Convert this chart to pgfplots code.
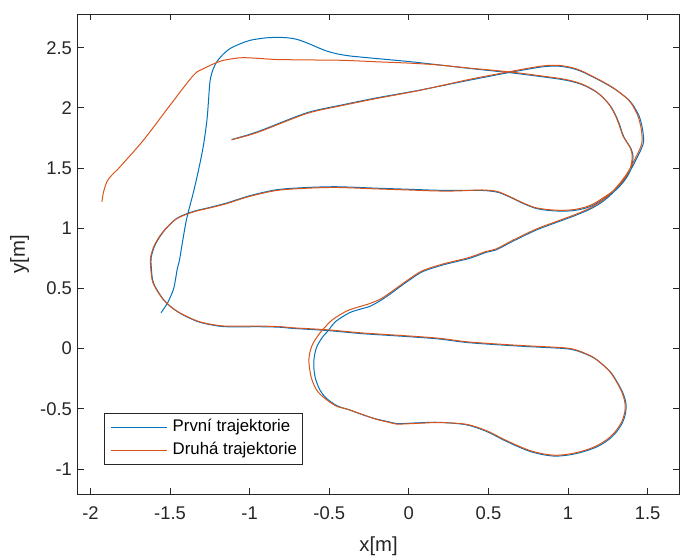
\documentclass[border=0pt]{standalone}
\usepackage{fontspec}
\setmainfont{Liberation Sans}
\usepackage{pgfplots}
\pgfplotsset{compat=1.18}
\definecolor{mblue}{rgb}{0,0.447,0.741}
\definecolor{morange}{rgb}{0.85,0.325,0.098}
\definecolor{axgray}{rgb}{0.15,0.15,0.15}

\begin{document}
\begin{tikzpicture}
\begin{axis}[
  scale only axis, width=601.8pt, height=480.3pt,
  xmin=-2.08, xmax=1.70, ymin=-1.21, ymax=2.78,
  xtick={-2,-1.5,...,1.5}, ytick={-1,-0.5,...,2.5},
  tick align=inside, major tick length=6.5pt,
  axis line style={axgray, line width=0.8pt},
  every tick/.style={axgray, line width=0.8pt},
  /pgf/number format/assume math mode=true,
  ticklabel style={font=\fontsize{18.4}{22}\selectfont, text=axgray},
  xticklabel style={yshift=-9pt},
  yticklabel style={xshift=-2.3pt},
  xlabel={x[m]}, ylabel={y[m]},
  label style={font=\fontsize{20.3}{24}\selectfont, text=axgray},
  xlabel style={at={(axis description cs:0.5,-0.1201)}, anchor=base},
  ylabel style={at={(axis description cs:-0.0965,0.5)}, anchor=center},
  legend style={at={(0.0442,0.0610)}, anchor=south west, draw=axgray,
    line width=0.8pt, fill=white, font=\fontsize{16.8}{20}\selectfont,
    inner xsep=6pt, inner ysep=6.3pt, row sep=6.7pt,
    nodes={inner sep=0pt, text height=12pt, text depth=4pt, text=black}},
  legend cell align=left,
  legend image code/.code={\draw[#1] (0pt,0pt) -- (56pt,0pt); \path (61pt,0pt);},
]
% first run
\addplot[mblue, line width=1.0pt, smooth, tension=0.5] coordinates {
(-1.556,0.298) (-1.530,0.350) (-1.510,0.394) (-1.479,0.491) (-1.465,0.580)
(-1.455,0.660) (-1.440,0.740) (-1.420,0.900) (-1.395,1.082) (-1.353,1.300)
(-1.320,1.490) (-1.290,1.690) (-1.268,1.900) (-1.259,2.050) (-1.252,2.180)
(-1.246,2.245) (-1.230,2.320) (-1.207,2.381) (-1.170,2.440) (-1.124,2.492)
(-1.060,2.532) (-0.998,2.561) (-0.910,2.580) (-0.831,2.586) (-0.760,2.582)
(-0.705,2.570) (-0.640,2.540) (-0.580,2.506) (-0.520,2.474) (-0.454,2.450)
(-0.380,2.433) (-0.308,2.423) (-0.203,2.410) (0.000,2.385) (0.171,2.360)
(0.400,2.325) (0.631,2.293) (0.800,2.265) (0.965,2.235) (1.050,2.210)
(1.112,2.180) (1.190,2.120) (1.258,2.030) (1.295,1.950) (1.321,1.870)
(1.350,1.760) (1.395,1.663) (1.408,1.600) (1.405,1.545) (1.395,1.490)
(1.372,1.430) (1.335,1.365) (1.285,1.300) (1.230,1.250) (1.170,1.200)
(1.112,1.168) (1.040,1.148) (0.965,1.142) (0.880,1.148) (0.798,1.165)
(0.720,1.205) (0.652,1.248) (0.590,1.285) (0.548,1.302) (0.464,1.314)
(0.300,1.315) (0.171,1.316) (0.000,1.324) (-0.203,1.333) (-0.454,1.345)
(-0.650,1.338) (-0.831,1.320) (-1.000,1.270) (-1.144,1.210) (-1.260,1.170)
(-1.353,1.140) (-1.458,1.082) (-1.541,0.972) (-1.594,0.861) (-1.618,0.760)
(-1.618,0.680) (-1.604,0.546) (-1.541,0.408) (-1.458,0.311) (-1.333,0.228)
(-1.230,0.195) (-1.144,0.182) (-0.935,0.182) (-0.812,0.178) (-0.726,0.168)
(-0.517,0.151) (-0.308,0.126) (-0.184,0.115) (0.004,0.099) (0.192,0.080)
(0.380,0.049) (0.694,0.021) (0.965,0.002) (1.040,-0.012) (1.091,-0.034)
(1.160,-0.075) (1.216,-0.131) (1.270,-0.200) (1.311,-0.283) (1.345,-0.370)
(1.363,-0.449) (1.362,-0.530) (1.342,-0.614) (1.305,-0.690) (1.258,-0.753)
(1.190,-0.810) (1.112,-0.850) (1.020,-0.880) (0.924,-0.893) (0.840,-0.880)
(0.757,-0.852) (0.670,-0.805) (0.589,-0.755) (0.485,-0.686) (0.359,-0.632)
(0.192,-0.612) (0.080,-0.615) (-0.038,-0.622) (-0.080,-0.622) (-0.142,-0.603)
(-0.203,-0.585) (-0.289,-0.550) (-0.371,-0.510) (-0.450,-0.475) (-0.520,-0.410)
(-0.560,-0.340) (-0.590,-0.230) (-0.597,-0.104) (-0.580,0.010) (-0.540,0.100)
(-0.509,0.145) (-0.460,0.225) (-0.373,0.298) (-0.300,0.330) (-0.247,0.350)
(-0.184,0.395) (-0.122,0.449) (-0.060,0.510) (0.004,0.570) (0.087,0.640)
(0.213,0.695) (0.380,0.750) (0.485,0.800) (0.548,0.820) (0.650,0.890)
(0.798,0.984) (0.930,1.050) (1.049,1.108) (1.140,1.160) (1.216,1.220)
(1.280,1.293) (1.330,1.367) (1.375,1.445) (1.410,1.525) (1.440,1.605)
(1.462,1.665) (1.475,1.725) (1.467,1.830) (1.447,1.930) (1.410,2.020)
(1.384,2.064) (1.300,2.150) (1.216,2.216) (1.091,2.299) (1.020,2.330)
(0.945,2.346) (0.870,2.345) (0.798,2.333) (0.631,2.294) (0.380,2.230)
(0.066,2.147) (-0.203,2.083) (-0.400,2.030) (-0.622,1.967) (-0.800,1.880)
(-0.914,1.820) (-1.000,1.780) (-1.113,1.737)
};
\addlegendentry{První trajektorie}
% second run
\addplot[morange, line width=1.0pt, smooth, tension=0.5] coordinates {
(-1.928,1.220) (-1.918,1.300) (-1.897,1.386) (-1.870,1.435) (-1.840,1.475)
(-1.814,1.511) (-1.667,1.732) (-1.500,2.022) (-1.353,2.271) (-1.290,2.326)
(-1.186,2.387) (-1.100,2.410) (-1.040,2.417) (-0.950,2.412) (-0.831,2.402)
(-0.600,2.398) (-0.412,2.395) (-0.203,2.383) (0.000,2.372) (0.171,2.358)
(0.400,2.328) (0.626,2.300) (0.795,2.272) (0.960,2.242) (1.045,2.217)
(1.107,2.187) (1.185,2.127) (1.253,2.037) (1.290,1.957) (1.316,1.877)
(1.345,1.767) (1.390,1.670) (1.403,1.607) (1.400,1.552) (1.390,1.497)
(1.367,1.437) (1.330,1.372) (1.280,1.307) (1.225,1.257) (1.165,1.207)
(1.107,1.175) (1.035,1.155) (0.960,1.149) (0.875,1.155) (0.793,1.172)
(0.715,1.212) (0.647,1.255) (0.585,1.292) (0.543,1.309) (0.459,1.318)
(0.300,1.310) (0.171,1.310) (0.000,1.318) (-0.203,1.327) (-0.454,1.339)
(-0.650,1.332) (-0.831,1.314) (-1.000,1.265) (-1.144,1.205) (-1.260,1.166)
(-1.353,1.136) (-1.460,1.078) (-1.545,0.970) (-1.598,0.860) (-1.622,0.760)
(-1.622,0.680) (-1.607,0.546) (-1.544,0.410) (-1.460,0.314) (-1.334,0.232)
(-1.230,0.199) (-1.144,0.187) (-0.935,0.187) (-0.812,0.183) (-0.726,0.173)
(-0.517,0.157) (-0.308,0.132) (-0.184,0.121) (0.004,0.105) (0.192,0.086)
(0.380,0.055) (0.694,0.027) (0.965,0.008) (1.038,-0.006) (1.087,-0.028)
(1.155,-0.069) (1.211,-0.125) (1.265,-0.195) (1.306,-0.279) (1.340,-0.368)
(1.357,-0.448) (1.356,-0.528) (1.336,-0.610) (1.300,-0.684) (1.253,-0.746)
(1.186,-0.803) (1.110,-0.843) (1.020,-0.873) (0.924,-0.886) (0.840,-0.873)
(0.757,-0.845) (0.670,-0.798) (0.589,-0.748) (0.485,-0.680) (0.359,-0.628)
(0.192,-0.614) (0.080,-0.619) (-0.038,-0.626) (-0.080,-0.626) (-0.142,-0.607)
(-0.210,-0.585) (-0.289,-0.548) (-0.380,-0.505) (-0.456,-0.477) (-0.535,-0.405)
(-0.582,-0.338) (-0.615,-0.230) (-0.628,-0.090) (-0.610,0.020) (-0.575,0.100)
(-0.540,0.159) (-0.480,0.240) (-0.393,0.311) (-0.320,0.345) (-0.260,0.368)
(-0.184,0.408) (-0.125,0.458) (-0.062,0.518) (0.002,0.578) (0.085,0.647)
(0.211,0.702) (0.378,0.757) (0.483,0.807) (0.546,0.827) (0.648,0.897)
(0.796,0.991) (0.928,1.057) (1.047,1.115) (1.137,1.167) (1.212,1.227)
(1.275,1.300) (1.325,1.374) (1.369,1.452) (1.404,1.532) (1.434,1.611)
(1.455,1.671) (1.466,1.730) (1.459,1.830) (1.439,1.932) (1.404,2.024)
(1.378,2.070) (1.295,2.157) (1.211,2.223) (1.087,2.306) (1.017,2.337)
(0.943,2.353) (0.868,2.352) (0.796,2.340) (0.629,2.300) (0.378,2.236)
(0.066,2.145) (-0.203,2.078) (-0.400,2.025) (-0.622,1.961) (-0.800,1.874)
(-0.914,1.814) (-1.000,1.775) (-1.113,1.735)
};
\addlegendentry{Druhá trajektorie}
\end{axis}
\pgfresetboundingbox
\path ([shift={(-77.7pt,-60.7pt)}]current axis.south west)
  rectangle ([shift={(0.5pt,14pt)}]current axis.north east);
\end{tikzpicture}
\end{document}
